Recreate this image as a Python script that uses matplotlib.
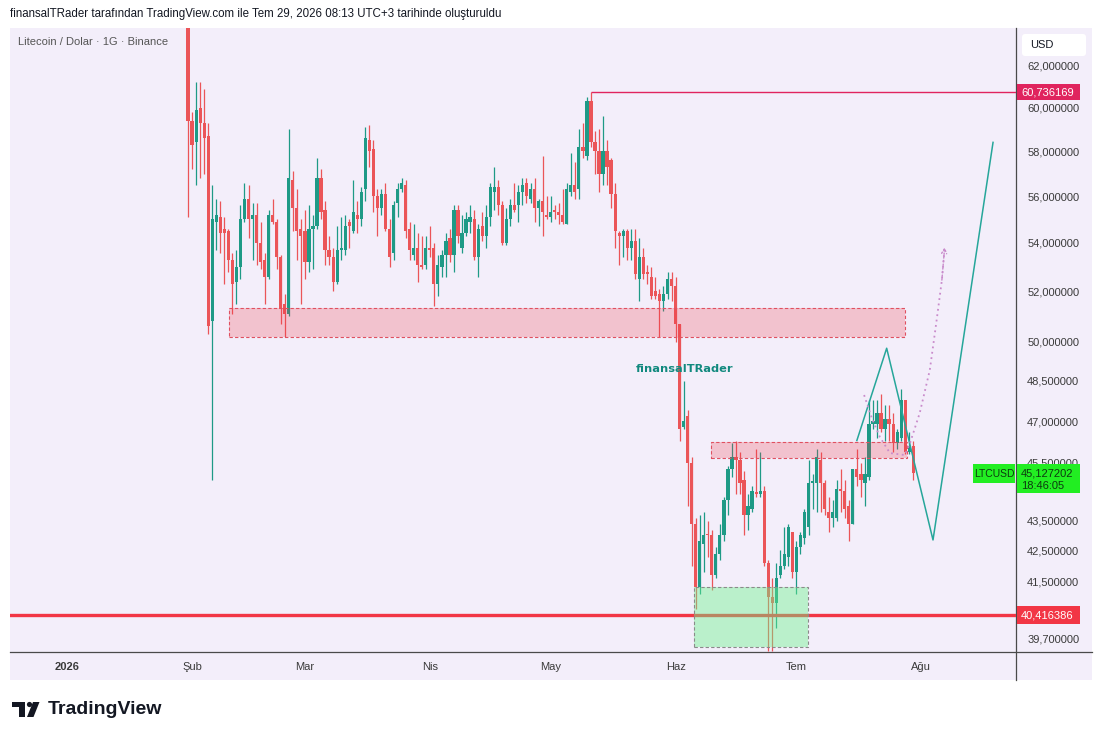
import numpy as np
import pandas as pd
import matplotlib
matplotlib.use("Agg")
import matplotlib.pyplot as plt
from matplotlib.patches import Rectangle, FancyBboxPatch, Polygon, Circle
from matplotlib.lines import Line2D
from matplotlib.ticker import FixedLocator, NullLocator, FixedFormatter

plt.rcParams['font.family'] = ['Liberation Sans', 'DejaVu Sans']

# daily LTC/USD candles, first bar 2026-01-31
first_day = pd.Timestamp("2026-01-31")
opens = [64.5, 59.4, 58.4, 60.0, 59.3, 58.7, 50.8, 54.9, 55.1, 54.6,
         54.5, 53.3, 52.4, 53.0, 55.0, 55.9, 55.0, 55.2, 54.0, 53.3,
         52.6, 55.2, 54.9, 53.4, 51.5, 51.1, 56.7, 55.5, 54.6, 54.5,
         53.2, 54.6, 54.7, 56.8, 55.4, 53.7, 53.4, 52.4, 53.7, 53.7,
         54.9, 54.5, 55.2, 55.0, 56.3, 58.5, 58.1, 56.0, 55.5, 56.1,
         54.6, 53.6, 55.7, 56.3, 56.5, 54.6, 53.5, 53.8, 53.1, 53.1,
         53.8, 53.8, 52.3, 53.0, 53.5, 54.2, 53.5, 55.4, 53.8, 54.4,
         54.9, 55.0, 53.4, 54.7, 54.3, 55.1, 56.2, 56.4, 55.6, 54.0,
         55.0, 55.6, 55.6, 56.2, 56.6, 55.9, 56.3, 55.5, 55.8, 55.2,
         55.1, 55.4, 55.3, 55.2, 54.8, 56.2, 56.5, 56.3, 58.2, 57.8,
         60.3, 58.4, 58.0, 57.0, 58.0, 57.6, 56.1, 54.4, 54.3, 54.5,
         53.8, 54.1, 52.5, 53.4, 52.8, 52.6, 52.0, 51.9, 51.6, 51.9,
         52.5, 52.2, 50.7, 46.8, 47.2, 45.5, 43.4, 41.3, 42.7, 43.05,
         43.0, 41.7, 42.4, 43.0, 44.2, 45.3, 45.7, 45.6, 44.9, 43.7,
         43.9, 44.45, 44.4, 44.5, 42.1, 41.0, 40.8, 41.7, 42.0, 42.3,
         43.1, 41.8, 42.6, 42.9, 43.3, 44.8, 44.8, 45.6, 44.8, 43.8,
         43.6, 43.6, 44.6, 44.5, 44.0, 43.4, 45.3, 45.1, 44.8, 45.0,
         46.9, 46.9, 47.3, 46.7, 47.1, 46.9, 46.2, 46.4, 47.8, 45.9, 46.1]
highs = [65.0, 59.8, 61.2, 61.2, 60.9, 59.3, 56.5, 55.9, 55.8, 55.1,
         54.6, 53.6, 53.7, 55.6, 56.6, 56.5, 55.7, 55.7, 54.9, 53.6,
         55.4, 55.9, 55.0, 53.5, 51.9, 59.0, 57.1, 56.3, 55.0, 55.4,
         55.6, 55.2, 57.7, 57.2, 55.8, 54.3, 53.8, 54.7, 55.1, 55.2,
         55.0, 56.7, 55.8, 56.4, 59.1, 59.2, 58.5, 56.3, 56.3, 56.6,
         55.0, 55.8, 56.6, 56.8, 56.7, 54.9, 54.8, 54.4, 54.3, 54.3,
         54.7, 54.0, 53.5, 53.7, 54.4, 54.6, 55.6, 55.6, 55.2, 55.3,
         55.6, 55.4, 54.8, 55.3, 55.6, 56.6, 57.3, 56.7, 55.8, 55.5,
         55.9, 56.6, 56.5, 56.8, 56.8, 56.6, 56.8, 55.9, 57.8, 56.0,
         56.0, 55.6, 55.7, 56.3, 56.6, 57.9, 57.5, 59.0, 59.3, 60.5,
         60.736169, 58.9, 59.0, 59.6, 58.5, 57.7, 56.6, 54.5, 54.6, 54.6,
         54.6, 54.6, 54.2, 53.8, 53.1, 53.0, 52.6, 52.1, 52.2, 52.8,
         52.8, 52.6, 50.7, 48.5, 47.4, 45.7, 43.6, 43.7, 43.8, 43.5,
         43.2, 42.6, 43.4, 44.3, 45.4, 46.2, 46.3, 45.9, 45.2, 44.4,
         44.7, 46.0, 45.9, 44.7, 42.2, 41.6, 42.1, 42.5, 43.3, 43.4,
         43.1, 42.8, 43.1, 43.9, 45.6, 45.1, 46.0, 45.9, 44.9, 44.3,
         44.2, 44.9, 45.3, 44.9, 44.2, 45.3, 46.0, 45.5, 45.7, 47.8,
         47.8, 47.8, 48.0, 47.6, 47.6, 47.3, 46.7, 48.2, 47.8, 46.6, 46.3]
lows = [55.1, 57.2, 56.5, 56.8, 57.0, 50.3, 44.9, 53.7, 53.6, 52.3,
        52.8, 51.1, 51.5, 52.5, 54.9, 54.2, 53.3, 53.1, 52.9, 51.5,
        52.5, 54.8, 52.9, 50.7, 50.2, 51.0, 54.5, 53.3, 51.5, 52.5,
        52.8, 52.9, 54.6, 55.0, 53.1, 53.1, 52.0, 52.3, 53.3, 53.5,
        53.8, 54.4, 54.4, 54.7, 55.8, 57.3, 55.3, 54.3, 55.2, 54.5,
        53.0, 53.3, 55.1, 56.2, 54.2, 53.3, 53.3, 52.4, 52.9, 52.9,
        53.4, 51.4, 51.8, 52.6, 52.6, 53.2, 52.8, 54.0, 53.6, 54.3,
        54.4, 53.3, 52.6, 54.1, 53.8, 54.7, 55.4, 55.2, 53.9, 53.9,
        54.7, 55.3, 54.9, 55.6, 55.7, 55.7, 54.9, 54.7, 54.3, 55.0,
        54.9, 55.0, 54.8, 54.8, 54.8, 56.0, 55.9, 55.9, 57.7, 57.6,
        58.2, 57.0, 56.2, 56.5, 56.5, 55.5, 53.8, 53.1, 53.4, 53.3,
        53.3, 52.5, 51.6, 52.5, 52.3, 51.7, 51.7, 50.2, 51.2, 51.7,
        51.6, 50.0, 46.3, 46.7, 44.0, 42.0, 40.6, 41.1, 41.8, 42.3,
        41.2, 41.6, 42.2, 42.8, 43.7, 45.0, 44.4, 44.4, 43.0, 43.2,
        43.8, 44.3, 44.3, 42.0, 39.3, 39.3, 40.0, 41.6, 41.9, 42.0,
        41.6, 41.1, 42.4, 42.7, 43.0, 43.9, 43.8, 43.8, 43.7, 43.1,
        43.3, 43.5, 43.8, 43.6, 42.8, 43.4, 44.7, 44.3, 44.0, 44.9,
        46.7, 46.4, 46.6, 46.3, 46.3, 45.9, 46.0, 46.3, 45.8, 45.8, 44.9]
closes = [59.4, 58.3, 59.9, 59.3, 58.6, 50.6, 55.0, 55.2, 54.4, 54.4,
          53.3, 52.3, 53.0, 55.0, 55.9, 55.0, 55.2, 54.0, 53.2, 52.6,
          55.2, 54.9, 53.4, 51.3, 51.1, 56.8, 55.5, 54.5, 54.3, 53.2,
          54.6, 54.7, 56.8, 55.3, 53.7, 53.4, 52.4, 53.7, 53.8, 54.7,
          54.7, 55.3, 55.0, 56.2, 58.6, 58.0, 56.0, 55.5, 56.1, 54.6,
          53.4, 55.6, 56.3, 56.6, 54.5, 53.7, 53.8, 53.1, 53.0, 53.8,
          53.7, 52.3, 53.1, 53.5, 54.1, 53.5, 55.4, 54.3, 54.4, 55.0,
          55.1, 53.4, 54.6, 54.3, 55.1, 56.4, 56.4, 55.6, 54.0, 55.0,
          55.6, 55.4, 56.2, 56.5, 56.0, 56.3, 55.5, 55.8, 55.3, 55.1,
          55.3, 55.3, 55.2, 54.9, 56.3, 56.5, 56.2, 58.2, 58.0, 60.3,
          58.4, 58.0, 57.0, 58.0, 57.3, 56.1, 54.5, 54.3, 54.5, 53.8,
          54.1, 52.7, 53.4, 52.7, 52.7, 51.8, 51.8, 51.6, 51.9, 52.5,
          52.2, 50.7, 46.7, 47.0, 45.5, 43.4, 41.3, 42.8, 43.0, 43.0,
          41.7, 42.4, 43.0, 44.2, 45.3, 45.7, 45.6, 44.8, 43.7, 44.0,
          44.5, 44.4, 44.5, 42.1, 41.0, 40.8, 41.6, 42.0, 42.4, 43.3,
          41.8, 42.6, 43.0, 43.8, 44.8, 44.85, 45.7, 44.8, 43.9, 43.6,
          43.8, 44.6, 44.5, 43.9, 43.4, 45.3, 45.0, 44.9, 45.1, 46.9,
          47.0, 47.3, 46.7, 47.1, 46.9, 46.2, 46.6, 47.8, 45.9, 46.1, 45.127202]

peak_level = 60.736169
support_level = 40.416386
price_ticks = [62, 60, 58, 56, 54, 52, 50, 48.5, 47, 45.5, 43.5, 42.5, 41.5, 40.6, 39.7]
month_dates = ["2026-01-01", "2026-02-01", "2026-03-01", "2026-04-01",
               "2026-05-01", "2026-06-01", "2026-07-01", "2026-08-01"]
month_labels = ["2026", "Şub", "Mar", "Nis", "May", "Haz", "Tem", "Ağu"]

# drawings (bar index, price)
zone_resist = (10.2, 177.9, 50.18, 51.33)
zone_mid = (129.8, 178.4, 45.67, 46.25)
zone_green = (125.6, 153.8, 39.42, 41.3)
zig_x = [166.0, 173.4, 184.9, 199.8]
zig_y = [46.3, 49.75, 42.85, 58.4]
dot_x = [167.8, 169.7, 171.7, 174.2, 177.9, 179.2, 181.6, 184.1, 185.4, 185.9, 187.1, 187.8]
dot_y = [47.97, 47.12, 46.43, 45.85, 45.78, 46.21, 47.30, 48.91, 50.38, 50.97, 52.46, 53.83]

UP = "#1E9A86"
DOWN = "#EB5558"
BG = "#F3EEFA"

W, H = 1102, 740
fig = plt.figure(figsize=(W / 100, H / 100), dpi=100)
fig.patch.set_facecolor("white")

bg = fig.add_axes([0, 0, 1, 1], zorder=-1)
bg.set_xlim(0, W)
bg.set_ylim(H, 0)
bg.axis("off")
bg.add_patch(Rectangle((10, 28), 1082, 652, facecolor=BG, edgecolor="none"))

ax = fig.add_axes([10 / W, 1 - 652 / H, 1006 / W, 624 / H], zorder=1)
ax.set_facecolor("none")
for s in ax.spines.values():
    s.set_visible(False)

o = np.array(opens)
h = np.array(highs)
l = np.array(lows)
c = np.array(closes)
idx = np.arange(len(o))
cols = np.where(c >= o, UP, DOWN)
ax.vlines(idx, l, h, colors=cols, lw=0.9, zorder=2)
lo = np.minimum(o, c)
hi = np.maximum(np.maximum(o, c), lo * 1.0015)
ax.bar(idx, hi - lo, bottom=lo, width=0.8, color=cols, lw=0, zorder=3)

ax.set_yscale("log")
ax.set_ylim(39.27, 63.84)
ax.set_xlim(-44.2, 205.5)

# levels
ax.axhline(support_level, color="#F23645", lw=2.4, zorder=3.5)
peak_i = int(np.argmin(np.abs(h - peak_level)))
ax.hlines(peak_level, peak_i, 205.5, color="#E0245E", lw=1.0, zorder=3.5)

for (x0, x1, y0, y1), fc, a, ec in [(zone_resist, "#F23645", 0.24, "#E05060"),
                                    (zone_mid, "#F23645", 0.24, "#E05060"),
                                    (zone_green, "#6CF58C", 0.42, "#8A8A8A")]:
    ax.add_patch(Rectangle((x0, y0), x1 - x0, y1 - y0, facecolor=fc, alpha=a,
                           edgecolor="none", zorder=4))
    ax.add_patch(Rectangle((x0, y0), x1 - x0, y1 - y0, facecolor="none",
                           edgecolor=ec, lw=0.8, ls=(0, (3, 2)), zorder=4))

ax.plot(zig_x, zig_y, color="#26A69A", lw=1.1, zorder=5)
ax.plot(dot_x, dot_y, color="#C98BCB", lw=1.3, ls=(0, (1, 2)), zorder=5)
ax.annotate("", xy=(dot_x[-1], dot_y[-1]), xytext=(dot_x[-2], dot_y[-2]),
            arrowprops=dict(arrowstyle="->", color="#C98BCB", lw=1.0, ls=":",
                            mutation_scale=9, shrinkA=0, shrinkB=0), zorder=5)

ax.text(111.2, 48.95, "finansalTRader", color="#11897E", fontsize=8.2,
        fontweight="bold", va="center", ha="left", zorder=6,
        family=["DejaVu Sans"])

# axes ticks
ax.yaxis.tick_right()
ax.yaxis.set_major_locator(FixedLocator(price_ticks))
ax.yaxis.set_minor_locator(NullLocator())
ax.yaxis.set_major_formatter(FixedFormatter([f"{v:.6f}".replace(".", ",") for v in price_ticks]))
ax.tick_params(axis="y", length=0, pad=8, labelsize=8, labelcolor="#3a3a3a")

tick_pos = [(pd.Timestamp(d) - first_day).days for d in month_dates]
ax.set_xticks(tick_pos)
ax.set_xticklabels(month_labels)
ax.xaxis.set_minor_locator(NullLocator())
ax.tick_params(axis="x", length=0, pad=7, labelsize=8, labelcolor="#3a3a3a")
ax.get_xticklabels()[0].set_fontweight("bold")

# chrome: axis lines, header, logo
bg.add_line(Line2D([10, 1092], [652, 652], color="#4a4a4a", lw=0.9))
bg.add_line(Line2D([1016, 1016], [28, 680], color="#4a4a4a", lw=0.9))
bg.text(10, 14, "finansalTRader tarafından TradingView.com ile Tem 29, 2026 08:13 UTC+3 tarihinde oluşturuldu",
        fontsize=8.3, color="#131722", va="center", ha="left")
bg.text(18, 42, "Litecoin / Dolar · 1G · Binance", fontsize=8, color="#555555",
        va="center", ha="left")

# TradingView logo
bg.add_patch(Polygon([(12, 702), (25, 702), (25, 717), (19, 717), (19, 707), (12, 707)],
                     closed=True, facecolor="#131722", edgecolor="none"))
bg.add_patch(Circle((29.5, 704.5), 2.6, facecolor="#131722", edgecolor="none"))
bg.add_patch(Polygon([(33, 702), (39.5, 702), (33.5, 717), (27, 717)],
                     closed=True, facecolor="#131722", edgecolor="none"))
bg.text(48, 710, "TradingView", fontsize=14, fontweight="bold", color="#131722",
        va="center", ha="left")

# overlay with price labels
top = fig.add_axes([0, 0, 1, 1], zorder=5)
top.set_xlim(0, W)
top.set_ylim(H, 0)
top.axis("off")
top.patch.set_visible(False)


def ypix(p):
    return H - ax.transData.transform((0, p))[1]


top.add_patch(FancyBboxPatch((1022, 34), 64, 22, boxstyle="round,pad=0,rounding_size=3",
                             facecolor="white", edgecolor="none"))
top.text(1030, 45.5, "USD", fontsize=8, color="#131722", va="center", ha="left")

yp = ypix(peak_level)
top.add_patch(Rectangle((1017, yp - 8), 63, 16, facecolor="#E0245E", edgecolor="none"))
top.text(1021, yp, f"{peak_level:.6f}".replace(".", ","), fontsize=8, color="white",
         va="center", ha="left")

ys = ypix(support_level)
top.add_patch(Rectangle((1017, ys - 9), 63, 18, facecolor="#F23645", edgecolor="none"))
top.text(1021, ys, f"{support_level:.6f}".replace(".", ","), fontsize=8, color="white",
         va="center", ha="left")

yl = ypix(c[-1])
top.add_patch(Rectangle((1017, yl - 9), 63, 29, facecolor="#22EE22", edgecolor="none"))
top.text(1021, yl, f"{c[-1]:.6f}".replace(".", ","), fontsize=8, color="#0D3B10",
         va="center", ha="left")
top.text(1021, yl + 13, "18:46:05", fontsize=8, color="#0D3B10", va="center", ha="left")
top.add_patch(Rectangle((973, yl - 9), 42, 19, facecolor="#22EE22", edgecolor="none"))
top.text(994, yl + 0.5, "LTCUSD", fontsize=7.5, color="#0D3B10", va="center", ha="center")

fig.savefig("out.png", dpi=100, facecolor="white")
